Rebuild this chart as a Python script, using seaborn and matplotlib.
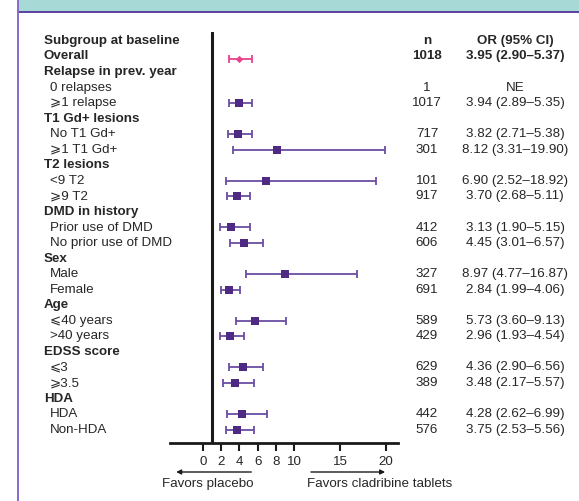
import numpy as np
import pandas as pd
import matplotlib
matplotlib.use("Agg")
import matplotlib.pyplot as plt
import matplotlib.transforms as mtransforms
import seaborn as sns

# ---- data ----
labels = ["Overall", "Relapse in prev. year", "0 relapses", "⩾1 relapse",
          "T1 Gd+ lesions", "No T1 Gd+", "⩾1 T1 Gd+",
          "T2 lesions", "<9 T2", "⩾9 T2",
          "DMD in history", "Prior use of DMD", "No prior use of DMD",
          "Sex", "Male", "Female",
          "Age", "⩽40 years", ">40 years",
          "EDSS score", "⩽3", "⩾3.5",
          "HDA", "HDA", "Non-HDA"]
is_header = [True, True, False, False,
             True, False, False,
             True, False, False,
             True, False, False,
             True, False, False,
             True, False, False,
             True, False, False,
             True, False, False]
n_text = ["1018", "", "1", "1017", "", "717", "301", "", "101", "917",
          "", "412", "606", "", "327", "691", "", "589", "429",
          "", "629", "389", "", "442", "576"]
or_est = [3.95, np.nan, np.nan, 3.94, np.nan, 3.82, 8.12, np.nan, 6.90, 3.70,
          np.nan, 3.13, 4.45, np.nan, 8.97, 2.84, np.nan, 5.73, 2.96,
          np.nan, 4.36, 3.48, np.nan, 4.28, 3.75]
or_lo = [2.90, np.nan, np.nan, 2.89, np.nan, 2.71, 3.31, np.nan, 2.52, 2.68,
         np.nan, 1.90, 3.01, np.nan, 4.77, 1.99, np.nan, 3.60, 1.93,
         np.nan, 2.90, 2.17, np.nan, 2.62, 2.53]
or_hi = [5.37, np.nan, np.nan, 5.35, np.nan, 5.38, 19.90, np.nan, 18.92, 5.11,
         np.nan, 5.15, 6.57, np.nan, 16.87, 4.06, np.nan, 9.13, 4.54,
         np.nan, 6.56, 5.57, np.nan, 6.99, 5.56]
ci_text = ["3.95 (2.90–5.37)", "", "NE", "3.94 (2.89–5.35)", "",
           "3.82 (2.71–5.38)", "8.12 (3.31–19.90)", "",
           "6.90 (2.52–18.92)", "3.70 (2.68–5.11)", "",
           "3.13 (1.90–5.15)", "4.45 (3.01–6.57)", "",
           "8.97 (4.77–16.87)", "2.84 (1.99–4.06)", "",
           "5.73 (3.60–9.13)", "2.96 (1.93–4.54)", "",
           "4.36 (2.90–6.56)", "3.48 (2.17–5.57)", "",
           "4.28 (2.62–6.99)", "3.75 (2.53–5.56)"]
xticks = [0, 2, 4, 6, 8, 10, 15, 20]

df = pd.DataFrame({"label": labels, "header": is_header, "n": n_text,
                   "est": or_est, "lo": or_lo, "hi": or_hi, "ci": ci_text})
df["row"] = np.arange(1, len(df) + 1)
df["group"] = np.where(df["row"] == 1, "overall", "sub")

sns.set_style("white")
plt.rcParams["font.family"] = ["Liberation Sans", "DejaVu Sans"]
FS = 9.6
plt.rcParams["font.size"] = FS

W, H = 579, 502
fig = plt.figure(figsize=(W / 100, H / 100), dpi=100)

# poster frame: teal band on top, purple border
frame = fig.add_axes([0, 0, 1, 1])
frame.set_axis_off()
frame.set_xlim(0, W)
frame.set_ylim(H, 0)
frame.fill_between([18, W], 0, 12.5, color="#a7d9d6", lw=0)
frame.plot([18, W], [13, 13], color="#5e3f9f", lw=1.4)
frame.plot([18, 18], [0, H], color="#8a68cf", lw=1.4)

# forest panel: x axis from 170 to 398 px, rows from 33 to 444 px
row0, step = 40.0, 15.55
x0px, x1px = 170, 398
top_px, bot_px = 33, 444
ax = fig.add_axes([x0px / W, 1 - bot_px / H, (x1px - x0px) / W, (bot_px - top_px) / H])
ax.set_xlim(-3.57, 21.3)
ax.set_ylim((bot_px - row0) / step, (top_px - row0) / step)
ax.patch.set_alpha(0)

purple = "#4e2a84"
ci_col = "#6b4ea3"
pink = "#e8428b"

sub = df[df["group"] == "sub"].dropna(subset=["est"])
ov = df[df["group"] == "overall"]
ax.errorbar(sub["est"], sub["row"] + 0.12, xerr=[sub["est"] - sub["lo"], sub["hi"] - sub["est"]],
            fmt="none", ecolor=ci_col, elinewidth=1.3, capsize=3.2, capthick=1.3, zorder=2)
ax.errorbar(ov["est"], ov["row"] + 0.3, xerr=[ov["est"] - ov["lo"], ov["hi"] - ov["est"]],
            fmt="none", ecolor=pink, elinewidth=1.3, capsize=3.2, capthick=1.3, zorder=2)
sns.scatterplot(x=sub["est"], y=sub["row"] + 0.12, marker="s", s=26, color=purple,
                edgecolor=purple, linewidth=0, ax=ax, zorder=3)
sns.scatterplot(x=ov["est"], y=ov["row"] + 0.3, marker="D", s=14, color=pink,
                edgecolor=pink, linewidth=0, ax=ax, zorder=3)

ax.axvline(1, color="#1a1a1a", lw=2.2, zorder=1)

for side in ["top", "right", "left"]:
    ax.spines[side].set_visible(False)
ax.spines["bottom"].set_linewidth(2.0)
ax.spines["bottom"].set_color("#1a1a1a")
ax.set_yticks([])
ax.set_xticks(xticks)
ax.set_xticklabels([str(t) for t in xticks], fontsize=FS)
ax.tick_params(axis="x", bottom=True, direction="out", length=6, width=1.5,
               color="#1a1a1a", pad=2.5)
ax.set_xlabel("")
ax.set_ylabel("")

# text columns (nudged ~1 px down relative to the row centre)
tr = mtransforms.blended_transform_factory(fig.transFigure, ax.transData)
x_lab, x_sub, x_n, x_ci = 44 / W, 50 / W, 427 / W, 515 / W
dy = 0.06
ax.text(x_lab, dy, "Subgroup at baseline", transform=tr, fontweight="bold",
        va="center", ha="left")
ax.text(x_n, dy, "n", transform=tr, fontweight="bold", va="center", ha="center")
ax.text(x_ci, dy, "OR (95% CI)", transform=tr, fontweight="bold", va="center", ha="center")
for _, r in df.iterrows():
    bold = "bold" if r["row"] == 1 else "normal"
    y = r["row"] + dy
    if r["header"]:
        ax.text(x_lab, y, r["label"], transform=tr, fontweight="bold",
                va="center", ha="left")
    else:
        ax.text(x_sub, y, r["label"], transform=tr, va="center", ha="left")
    if r["n"]:
        ax.text(x_n, y, r["n"], transform=tr, fontweight=bold,
                va="center", ha="center")
    if r["ci"]:
        ax.text(x_ci, y, r["ci"], transform=tr, fontweight=bold,
                va="center", ha="center")

# direction arrows under the axis
ya = (473 - row0) / step
yt = (484 - row0) / step
ax.annotate("", xy=(-3.2, ya), xytext=(5.6, ya), xycoords="data",
            arrowprops=dict(arrowstyle="-|>", color="#1a1a1a", lw=1.0,
                            mutation_scale=7), annotation_clip=False)
ax.annotate("", xy=(20.2, ya), xytext=(11.5, ya), xycoords="data",
            arrowprops=dict(arrowstyle="-|>", color="#1a1a1a", lw=1.0,
                            mutation_scale=7), annotation_clip=False)
ax.text(0.5, yt, "Favors placebo", ha="center", va="center", fontsize=FS, clip_on=False)
ax.text(19.3, yt, "Favors cladribine tablets", ha="center", va="center", fontsize=FS,
        clip_on=False)

fig.savefig("out.png", dpi=100)
